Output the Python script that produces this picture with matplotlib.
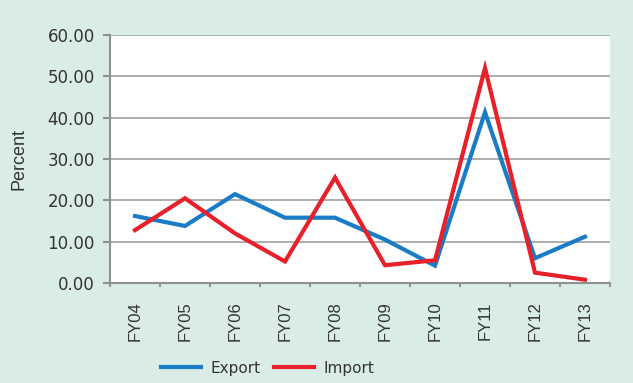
import numpy as np
import matplotlib.pyplot as plt

years = ["FY04", "FY05", "FY06", "FY07", "FY08", "FY09", "FY10", "FY11", "FY12", "FY13"]
export = [16.2, 13.8, 21.5, 15.8, 15.8, 10.5, 4.2, 41.3, 6.0, 11.2]
imports = [12.8, 20.5, 12.0, 5.2, 25.5, 4.3, 5.5, 52.0, 2.5, 0.8]

txt = "#333333"
bg = "#d9ede6"
fig = plt.figure(figsize=(6.33, 3.83), dpi=100, facecolor=bg)
ax = fig.add_axes([110 / 633, 100 / 383, 500 / 633, 248 / 383])
ax.set_facecolor("white")

x = np.arange(len(years))
ax.plot(x, export, color="#1a7cc6", lw=3.0, label="Export", solid_joinstyle="miter")
ax.plot(x, imports, color="#e8202a", lw=3.0, label="Import", solid_joinstyle="miter")

ax.set_xlim(-0.5, len(years) - 0.5)
ax.set_ylim(0, 60)
ax.set_yticks(np.arange(0, 61, 10))
ax.set_yticklabels([f"{v:.2f}" for v in np.arange(0, 61, 10)],
                   fontsize=12, color=txt, family="DejaVu Sans")
ax.yaxis.grid(True, color="#a0a0a0", lw=1.2)
ax.set_axisbelow(True)

# excel style ticks between categories
ax.set_xticks(np.arange(-0.5, len(years)), minor=False)
ax.set_xticklabels([])
ax.set_xticks(x, minor=True)
ax.set_xticklabels(years, minor=True, rotation=90, fontsize=12, color=txt,
                   family="Liberation Sans")
ax.tick_params(axis="x", which="minor", length=0, pad=13)
ax.tick_params(axis="x", which="major", length=3, color="#909090", width=1.5)
ax.tick_params(axis="y", length=5, color="#909090", width=1.5, pad=6)

for s in ["top", "right"]:
    ax.spines[s].set_visible(False)
for s in ["left", "bottom"]:
    ax.spines[s].set_color("#909090")
    ax.spines[s].set_linewidth(1.5)

ax.set_ylabel("Percent", fontsize=13, color=txt, labelpad=14, family="Liberation Sans")

fig.legend(loc="center", bbox_to_anchor=(0.423, 0.039), ncol=2, frameon=False,
           prop={"family": "DejaVu Sans", "size": 11}, labelcolor=txt, borderpad=0,
           handlelength=2.6, columnspacing=0.9, handletextpad=0.6)

fig.savefig("out.png", dpi=100, facecolor=bg)
